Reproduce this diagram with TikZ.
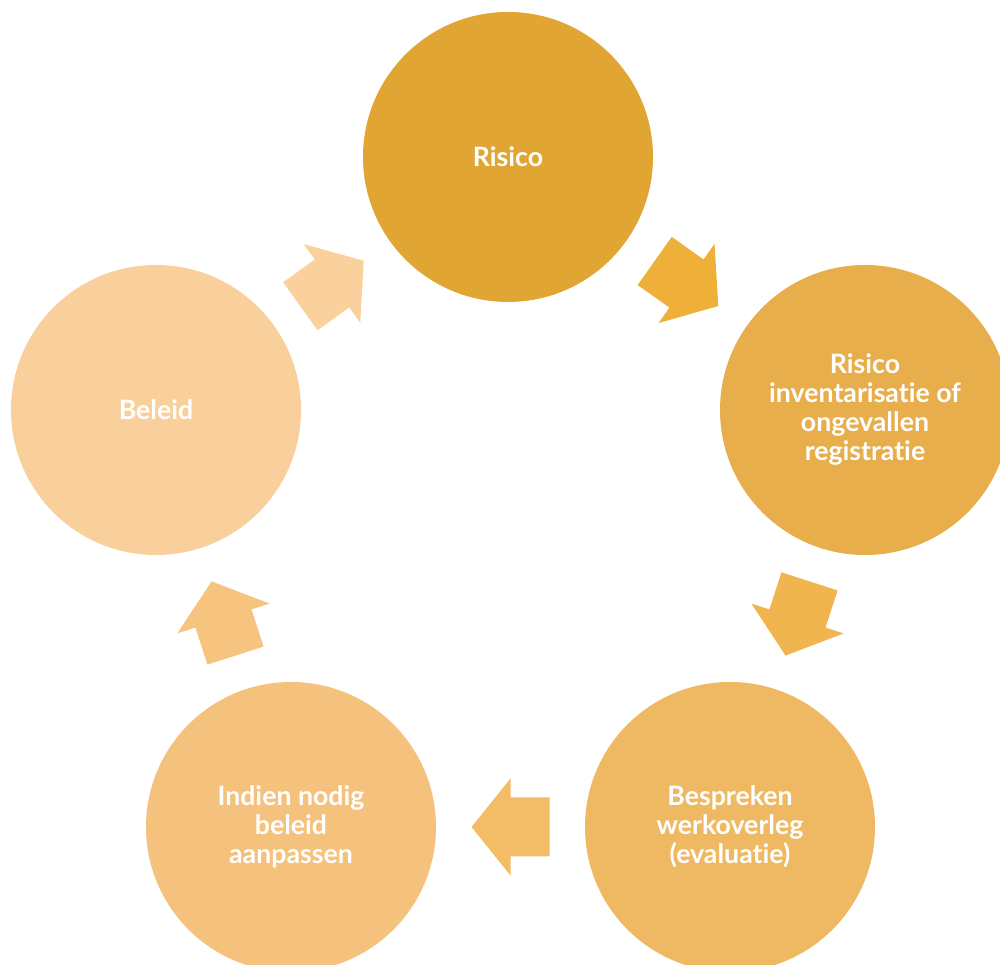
\documentclass[tikz,border=0pt]{standalone}
\usepackage{fontspec}
\setmainfont{Lato}[Ligatures={NoCommon,NoRare}]
\usetikzlibrary{calc}
\definecolor{cA}{HTML}{E1A534}
\definecolor{cB}{HTML}{E8AE4B}
\definecolor{cC}{HTML}{EFB963}
\definecolor{cD}{HTML}{F4C27C}
\definecolor{cE}{HTML}{F9CF9B}
\definecolor{aA}{HTML}{EEB038}
\definecolor{aB}{HTML}{F0B54E}
\definecolor{aC}{HTML}{F3BC66}
\definecolor{aD}{HTML}{F6C47F}
\definecolor{aE}{HTML}{FAD09D}
\tikzset{
  stage/.style={circle, minimum size=290pt, inner sep=0pt, draw=none, fill=#1,
    text=white, align=center, font=\bfseries\fontsize{26.7}{29}\selectfont},
  barrow/.pic={\fill[#1] (39,0) -- (0,48.5) -- (0,29.5) -- (-39,29.5) -- (-39,-29.5) -- (0,-29.5) -- (0,-48.5) -- cycle;}
}
\begin{document}
\begin{tikzpicture}[x=1pt,y=1pt]
\useasboundingbox (0,0) rectangle (1000,965);
\node[stage=cA] (A) at (508,808) {Risico};
\node[stage=cB] (B) at (865,555) {Risico\\inventarisatie of\\ongevallen\\registratie};
\node[stage=cC] (C) at (730,138) {Bespreken\\werkoverleg\\(evaluatie)};
\node[stage=cD] (D) at (291,138) {Indien nodig\\beleid\\aanpassen};
\node[stage=cE] (E) at (156,555) {Beleid};
\pic[rotate=-35.3] at ($(A)!0.5!(B)$) {barrow=aA};
\pic[rotate=-107.9] at ($(B)!0.5!(C)$) {barrow=aB};
\pic[rotate=180] at ($(C)!0.5!(D)$) {barrow=aC};
\pic[rotate=107.9] at ($(D)!0.5!(E)$) {barrow=aD};
\pic[rotate=35.7] at ($(E)!0.5!(A)$) {barrow=aE};
\end{tikzpicture}
\end{document}
